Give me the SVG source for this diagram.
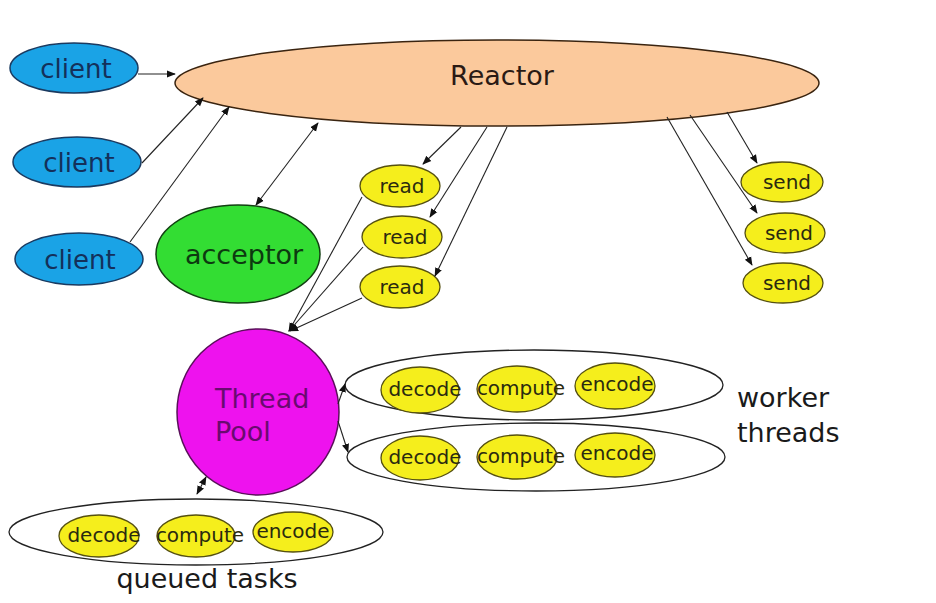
<svg xmlns="http://www.w3.org/2000/svg" width="936" height="603" viewBox="0 0 936 603">
<style>
text{font-family:"DejaVu Sans","Verdana",sans-serif;text-anchor:middle}
.cl{fill:#1aa3e6;stroke:#1a3a60;stroke-width:1.5}
.cl-t{font-size:26px;fill:#14305a}
.y{fill:#f5ee1c;stroke:#555010;stroke-width:1.3}
.y-t{font-size:20px;fill:#2a2a10}
.grp{fill:none;stroke:#222;stroke-width:1.3}
.big{font-size:27px;fill:#1a1a1a}
.c line,.c path{stroke:#222;stroke-width:1.1;fill:none}
</style>
<defs>
<marker id="ah" viewBox="0 0 10 10" refX="9" refY="5" markerWidth="9" markerHeight="9" markerUnits="userSpaceOnUse" orient="auto-start-reverse">
<path d="M0,1 L10,5 L0,9 z" fill="#111"/>
</marker>
</defs>
<rect width="936" height="603" fill="#ffffff"/>

<g id="reactor">
<ellipse cx="497" cy="83" rx="322" ry="43" fill="#fbc99c" stroke="#3a2410" stroke-width="1.5"/>
<text x="502" y="85" style="font-size:27px;fill:#2a1a14">Reactor</text>
</g>

<g id="client1"><ellipse class="cl" cx="74" cy="68" rx="64" ry="25"/><text class="cl-t" x="76" y="78">client</text></g>
<g id="client2"><ellipse class="cl" cx="77" cy="162" rx="64" ry="25"/><text class="cl-t" x="79" y="172">client</text></g>
<g id="client3"><ellipse class="cl" cx="79" cy="259" rx="64" ry="26"/><text class="cl-t" x="80" y="269">client</text></g>

<g id="acceptor">
<ellipse cx="238" cy="254" rx="82" ry="49" fill="#33dd33" stroke="#124012" stroke-width="1.5"/>
<text x="244" y="264" style="font-size:27px;fill:#0d3a10">acceptor</text>
</g>

<g id="read1"><ellipse class="y" cx="400" cy="186" rx="40" ry="21"/><text class="y-t" x="402" y="193">read</text></g>
<g id="read2"><ellipse class="y" cx="402" cy="237" rx="40" ry="21"/><text class="y-t" x="405" y="244">read</text></g>
<g id="read3"><ellipse class="y" cx="400" cy="287" rx="40" ry="21"/><text class="y-t" x="402" y="294">read</text></g>

<g id="send1"><ellipse class="y" cx="782" cy="182" rx="41" ry="20"/><text class="y-t" x="787" y="189">send</text></g>
<g id="send2"><ellipse class="y" cx="785" cy="233" rx="40" ry="20"/><text class="y-t" x="789" y="240">send</text></g>
<g id="send3"><ellipse class="y" cx="783" cy="283" rx="40" ry="20"/><text class="y-t" x="787" y="290">send</text></g>

<g id="threadpool">
<ellipse cx="258" cy="412" rx="81" ry="83" fill="#ee12ee" stroke="#5a105a" stroke-width="1.5"/>
<text x="215" y="408" style="font-size:27px;fill:#6a0a70;text-anchor:start">Thread</text>
<text x="215" y="441" style="font-size:27px;fill:#6a0a70;text-anchor:start">Pool</text>
</g>

<g id="worker1">
<ellipse class="grp" cx="534" cy="385" rx="189" ry="35"/>
<ellipse class="y" cx="420" cy="390" rx="39" ry="23"/>
<ellipse class="y" cx="517" cy="389" rx="40" ry="23"/>
<ellipse class="y" cx="615" cy="386" rx="40" ry="23"/>
<text class="y-t" x="425" y="396">decode</text>
<text class="y-t" x="521" y="395">compute</text>
<text class="y-t" x="617" y="391">encode</text>
</g>

<g id="worker2">
<ellipse class="grp" cx="536" cy="457" rx="189" ry="34"/>
<ellipse class="y" cx="420" cy="458" rx="39" ry="22"/>
<ellipse class="y" cx="517" cy="457" rx="40" ry="22"/>
<ellipse class="y" cx="615" cy="455" rx="40" ry="22"/>
<text class="y-t" x="425" y="464">decode</text>
<text class="y-t" x="521" y="463">compute</text>
<text class="y-t" x="617" y="460">encode</text>
</g>

<g id="worker-label">
<text class="big" x="737" y="407" style="text-anchor:start">worker</text>
<text class="big" x="737" y="442" style="text-anchor:start">threads</text>
</g>

<g id="queued">
<ellipse class="grp" cx="196" cy="532" rx="187" ry="33"/>
<ellipse class="y" cx="99" cy="536" rx="40" ry="21"/>
<ellipse class="y" cx="196" cy="536" rx="39" ry="21"/>
<ellipse class="y" cx="293" cy="532" rx="40" ry="20"/>
<text class="y-t" x="104" y="542">decode</text>
<text class="y-t" x="200" y="542">compute</text>
<text class="y-t" x="293" y="538">encode</text>
<text class="big" x="207" y="588">queued tasks</text>
</g>

<g class="c" id="connectors">
<line x1="138" y1="74" x2="175" y2="74" marker-end="url(#ah)"/>
<line x1="142" y1="163" x2="203" y2="98" marker-end="url(#ah)"/>
<line x1="130" y1="242" x2="229" y2="107" marker-end="url(#ah)"/>
<line x1="256" y1="205" x2="318" y2="123" marker-start="url(#ah)" marker-end="url(#ah)"/>
<line x1="461" y1="127" x2="423" y2="164" marker-end="url(#ah)"/>
<line x1="487" y1="127" x2="430" y2="217" marker-end="url(#ah)"/>
<line x1="507" y1="127" x2="435" y2="276" marker-end="url(#ah)"/>
<line x1="362" y1="197" x2="289" y2="331" marker-end="url(#ah)"/>
<line x1="363" y1="247" x2="289" y2="331" marker-end="url(#ah)"/>
<line x1="362" y1="298" x2="290" y2="331" marker-end="url(#ah)"/>
<line x1="727" y1="112" x2="757" y2="163" marker-end="url(#ah)"/>
<line x1="690" y1="115" x2="757" y2="213" marker-end="url(#ah)"/>
<line x1="667" y1="117" x2="752" y2="265" marker-end="url(#ah)"/>
<line x1="338" y1="404" x2="345" y2="384" marker-end="url(#ah)"/>
<line x1="338" y1="421" x2="348" y2="452" marker-end="url(#ah)"/>
<line x1="197" y1="494" x2="206" y2="477" marker-start="url(#ah)" marker-end="url(#ah)"/>
</g>
</svg>
